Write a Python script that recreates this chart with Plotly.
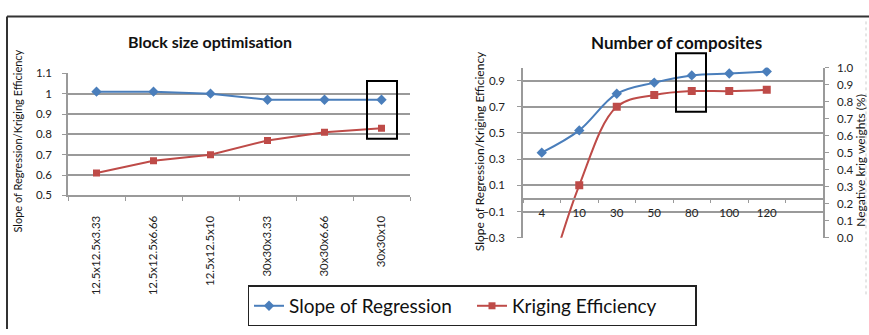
import plotly.graph_objects as go

W, H = 869, 335

# ---- data ----
block_sizes = ["12.5x12.5x3.33", "12.5x12.5x6.66", "12.5x12.5x10",
               "30x30x3.33", "30x30x6.66", "30x30x10"]
block_slope = [1.01, 1.01, 1.00, 0.97, 0.97, 0.97]
block_ke = [0.61, 0.67, 0.70, 0.77, 0.81, 0.83]

composites = ["4", "10", "30", "50", "80", "100", "120"]
comp_slope = [0.35, 0.52, 0.80, 0.885, 0.94, 0.955, 0.97]
comp_ke = [-0.80, 0.10, 0.70, 0.79, 0.82, 0.82, 0.83]

BLUE = "#4A7EBB"
RED = "#BE4B48"
GRID = "#9a9a9a"
FONT = "Lato"


def px(x):
    return x / W


def py(y):
    return 1 - y / H


fig = go.Figure()

# left chart
fig.add_trace(go.Scatter(x=block_sizes, y=block_slope, mode="lines+markers",
                         name="Slope of Regression", xaxis="x", yaxis="y",
                         line=dict(color=BLUE, width=2),
                         marker=dict(symbol="diamond", size=8, color=BLUE)))
fig.add_trace(go.Scatter(x=block_sizes, y=block_ke, mode="lines+markers",
                         name="Kriging Efficiency", xaxis="x", yaxis="y",
                         line=dict(color=RED, width=2),
                         marker=dict(symbol="square", size=7, color=RED)))
# right chart
fig.add_trace(go.Scatter(x=composites, y=comp_slope, mode="lines+markers",
                         name="Slope of Regression", xaxis="x2", yaxis="y2",
                         showlegend=False,
                         line=dict(color=BLUE, width=2, shape="spline"),
                         marker=dict(symbol="diamond", size=8, color=BLUE)))
fig.add_trace(go.Scatter(x=composites, y=comp_ke, mode="lines+markers",
                         name="Kriging Efficiency", xaxis="x2", yaxis="y2",
                         showlegend=False,
                         line=dict(color=RED, width=2, shape="spline"),
                         marker=dict(symbol="square", size=8, color=RED)))
# placeholder for the secondary axis (negative krig weights)
fig.add_trace(go.Scatter(x=[None], y=[None], xaxis="x2", yaxis="y3",
                         showlegend=False, hoverinfo="skip"))

tickfont = dict(family=FONT, size=11.5, color="#222")

fig.update_layout(
    width=W, height=H,
    margin=dict(l=0, r=0, t=0, b=0),
    paper_bgcolor="white", plot_bgcolor="white",
    font=dict(family=FONT, color="#111"),
    xaxis=dict(domain=[px(68), px(410)], anchor="y", type="category",
               categoryorder="array", categoryarray=block_sizes,
               range=[-0.5, 5.5], tickson="boundaries", ticks="outside",
               ticklen=4, tickcolor=GRID, showline=True, linecolor=GRID,
               linewidth=1.5, tickangle=-90, tickfont=tickfont,
               ticklabelstandoff=14, showgrid=False),
    yaxis=dict(domain=[py(196), py(69)], anchor="x", range=[0.5, 1.1],
               dtick=0.1, tick0=0.5, showgrid=True, gridcolor=GRID,
               gridwidth=1.5, showline=True, linecolor=GRID, linewidth=1.5,
               ticks="outside", ticklen=4, tickcolor=GRID, tickfont=tickfont,
               zeroline=False, ticklabelstandoff=8),
    xaxis2=dict(domain=[px(523), px(823)], anchor="free", position=py(199.3),
                type="category", categoryorder="array",
                categoryarray=composites, range=[-0.5, 7.5],
                tickson="boundaries", ticks="outside", ticklen=4,
                tickcolor=GRID, showline=True, linecolor=GRID, linewidth=1.5,
                tickfont=tickfont, showgrid=False, ticklabelstandoff=4),
    yaxis2=dict(domain=[py(240), py(63)], anchor="x2", range=[-0.3, 1.0],
                tick0=-0.3, dtick=0.2, showgrid=True, gridcolor=GRID,
                gridwidth=1.5, showline=True, linecolor=GRID, linewidth=1.5,
                ticks="outside", ticklen=4, tickcolor=GRID, tickfont=tickfont,
                zeroline=False, ticklabelstandoff=10),
    yaxis3=dict(domain=[py(240), py(63)], anchor="x2", overlaying="y2",
                side="right", range=[0, 1.0], dtick=0.1, tickformat=".1f",
                showgrid=False, showline=True, linecolor=GRID, linewidth=1.5,
                ticks="outside", ticklen=4, tickcolor=GRID, tickfont=tickfont,
                zeroline=False, ticklabelstandoff=6),
    legend=dict(orientation="h", x=px(472), xanchor="center",
                y=py(311), yanchor="middle", bordercolor="#222",
                borderwidth=1.5, bgcolor="white",
                font=dict(family=FONT, size=19, color="#111"),
                entrywidth=178, itemwidth=30),
    showlegend=True,
)

annotations = [
    dict(text="<b>Block size optimisation</b>", x=px(210), y=py(36),
         font=dict(size=16)),
    dict(text="<b>Number of composites</b>", x=px(676), y=py(37),
         font=dict(size=17)),
    dict(text="Slope of Regression/Kriging Efficiency", x=px(18), y=py(140),
         textangle=-90, font=dict(size=11)),
    dict(text="Slope of Regression/Kriging Efficiency", x=px(479), y=py(150),
         textangle=-90, font=dict(size=12)),
    dict(text="Negative krig weights (%)", x=px(861), y=py(160),
         textangle=-90, font=dict(size=12)),
]
for a in annotations:
    a.update(xref="paper", yref="paper", showarrow=False,
             xanchor="center", yanchor="middle")
    a["font"].update(family=FONT, color="#111")
fig.update_layout(annotations=annotations)

shapes = [
    # outer frame
    dict(type="line", x0=px(7), x1=1, y0=py(10), y1=py(10),
         line=dict(color="#333", width=2)),
    dict(type="line", x0=px(7), x1=px(7), y0=py(10), y1=0,
         line=dict(color="#333", width=2)),
    dict(type="line", x0=px(866), x1=px(866), y0=py(15), y1=py(300),
         line=dict(color="#cccccc", width=1, dash="dot")),
    # highlight boxes
    dict(type="rect", x0=px(367), x1=px(397), y0=py(137), y1=py(77),
         line=dict(color="black", width=2)),
    dict(type="rect", x0=px(676), x1=px(706), y0=py(109), y1=py(48),
         line=dict(color="black", width=2)),
]
for s in shapes:
    s.update(xref="paper", yref="paper")
fig.update_layout(shapes=shapes)

fig.write_html("out.html")
